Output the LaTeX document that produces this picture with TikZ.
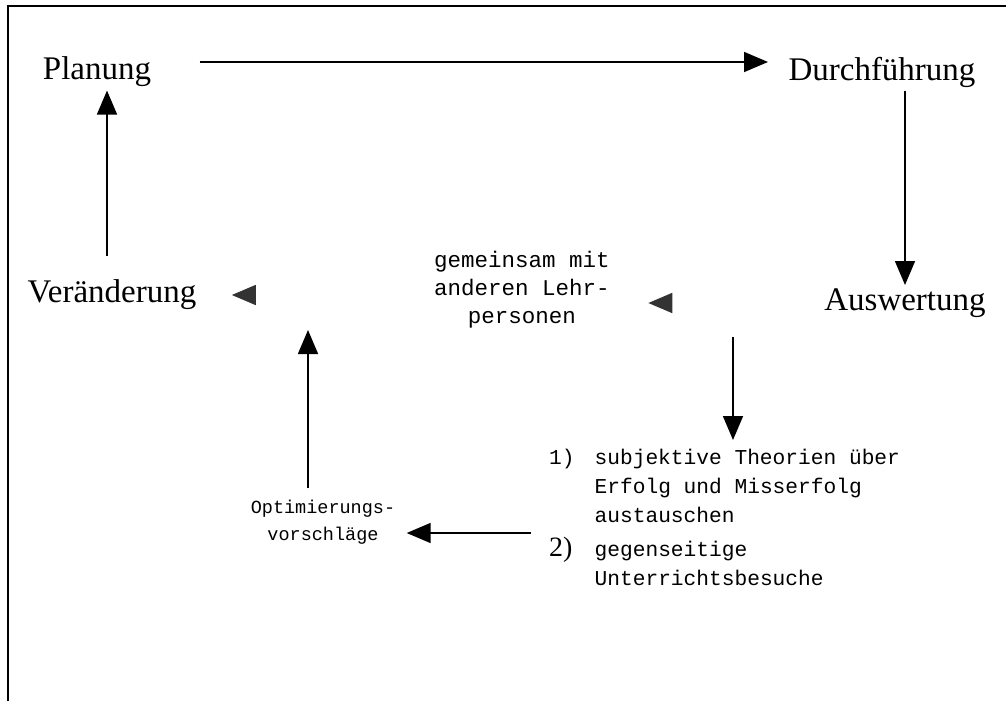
\documentclass[tikz,border=0pt]{standalone}
\usepackage{fontspec}
\setmainfont{Liberation Serif}
\setmonofont{Liberation Mono}
\usetikzlibrary{arrows.meta}

\begin{document}
\begin{tikzpicture}[x=1pt,y=-1pt,
    phase/.style={font=\fontsize{33}{38}\selectfont},
    note/.style={font=\ttfamily\fontsize{21}{28}\selectfont,align=center},
    flow/.style={line width=1.6pt,-{Triangle[length=24pt,width=20pt]}},
    ghost/.style={draw=white,line width=1.6pt,
      -{Triangle[length=24pt,width=20pt,color=black!80,fill=black!80]}}]
  \useasboundingbox (0,0) rectangle (1006,701);
  \draw[line width=1.4pt] (8,701) -- (8,6) -- (1006,6);
  % stages of the cycle
  \node[phase] (plan) at (97,72) {Planung};
  \node[phase] (durch) at (882,72) {Durchführung};
  \node[phase] (ausw) at (905,303) {Auswertung};
  \node[phase] (ver) at (112,295) {Veränderung};
  \node[note,font=\ttfamily\fontsize{22.5}{28}\selectfont] (gem) at (522,290) {gemeinsam mit\\anderen Lehr-\\personen};
  \node[note,font=\ttfamily\fontsize{18.5}{27}\selectfont] (opt) at (323,522) {Optimierungs-\\vorschläge};
  \node[note,font=\ttfamily\fontsize{21.2}{29}\selectfont,align=left,anchor=north west,inner sep=0pt] (list) at (549,444) {%
    \begin{tabular}{@{}l@{\hspace{20pt}}l@{}}
      1) & subjektive Theorien über\\
         & Erfolg und Misserfolg\\
         & austauschen\\[5pt]
      {\rmfamily\fontsize{28}{28}\selectfont 2)} & gegenseitige\\
         & Unterrichtsbesuche
    \end{tabular}};
  \coordinate (join) at (308,330);
  % arrows
  \draw[flow,shorten <=45pt,shorten >=17pt] ([yshift=10pt]plan.east) -- ([yshift=10pt]durch.west);
  \draw[flow] ([xshift=23pt]durch.south) -- (ausw.north);
  \draw[ghost,shorten >=35pt] (ausw.west) -- (gem.east |- ausw.west);
  \draw[ghost,shorten >=32pt] (gem.west |- ver.east) -- (ver.east);
  \draw[flow,shorten <=20pt] ([xshift=-5pt]ver.north) -- ([xshift=10pt]plan.south);
  \draw[flow,shorten <=5pt,shorten >=4pt] (gem.south -| 733,0) -- (list.north -| 733,0);
  \draw[flow,shorten <=18pt,shorten >=8pt] (list.west |- 0,533) -- (opt.east |- 0,533);
  \draw[flow,shorten <=8pt] (opt.north -| join) -- (join);
\end{tikzpicture}
\end{document}
